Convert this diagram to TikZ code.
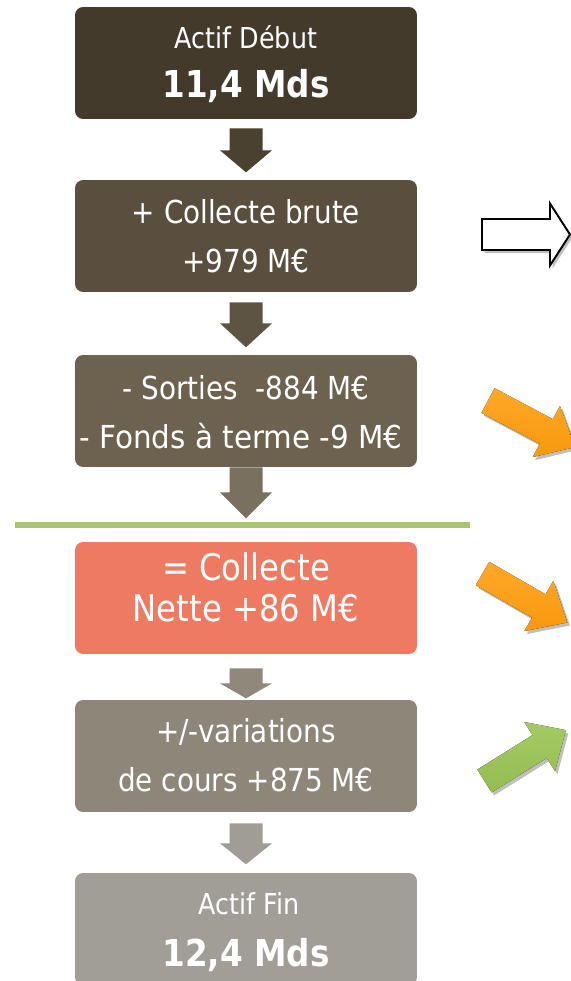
\documentclass[tikz,border=0pt]{standalone}
\usepackage{fontspec}
\setmainfont{DejaVu Sans}[FakeStretch=0.88]
\newfontfamily\widerfont{DejaVu Sans}[FakeStretch=0.93]
\usetikzlibrary{calc,shadows}
\definecolor{cA}{HTML}{433A2C}
\definecolor{cB}{HTML}{5A4F3E}
\definecolor{cC}{HTML}{6C624F}
\definecolor{cD}{HTML}{EE7A62}
\definecolor{cE}{HTML}{8E8679}
\definecolor{cF}{HTML}{A19E98}
\definecolor{aA}{HTML}{4A4131}
\definecolor{aB}{HTML}{5E5443}
\definecolor{aC}{HTML}{7A705F}
\definecolor{aD}{HTML}{8F887B}
\definecolor{aE}{HTML}{A09D97}
\definecolor{gline}{HTML}{A8C66C}
\definecolor{orL}{HTML}{FFA829}
\definecolor{orD}{HTML}{F7990C}
\definecolor{grL}{HTML}{A4CB63}
\definecolor{grD}{HTML}{93BC51}
\newcommand{\blockarrow}[5]{%
  \fill[#1] ($(#2)+(-16.5,#3)$) -- ++(33,0) -- ++(0,#4) -- ++(9.5,0)
    -- ++(-26,#5) -- ++(-26,-#5) -- ++(9.5,0) -- cycle;}
\begin{document}
\begin{tikzpicture}[x=0.02cm,y=-0.02cm,
  box/.style={rounded corners=0.16cm, minimum width=6.84cm, minimum height=2.24cm, inner sep=0pt, draw=none},
  txt/.style={text=white, anchor=base, inner sep=0pt},
  small/.style={font=\fontsize{16.4}{20}\selectfont},
  mid/.style={font=\fontsize{18}{22}\selectfont},
  midwide/.style={font=\widerfont\fontsize{18}{22}\selectfont},
  big/.style={font=\fontsize{20.9}{25}\selectfont},
  bold/.style={font=\fontsize{21.1}{25}\selectfont\bfseries},
  fatshadow/.style={drop shadow={shadow xshift=0.05cm, shadow yshift=-0.06cm, opacity=0.25, fill=black}}]
\useasboundingbox (0,0) rectangle (571,981);
\clip (0,0) rectangle (571,981);
% boxes
\node[box, fill=cA] (b1) at (246,63) {};
\node[box, fill=cB] (b2) at (246,236) {};
\node[box, fill=cC] (b3) at (246,411) {};
\node[box, fill=cD] (b4) at (246,598) {};
\node[box, fill=cE] (b5) at (246,756) {};
\node[box, fill=cF] (b6) at (246,929) {};
% texts
\node[txt, small] (t1a) at (246,48) {Actif Début};
\node[txt, bold]  (t1b) at (246,97) {11,4 Mds};
\node[txt, mid]   (t2a) at (246,223) {+ Collecte brute};
\node[txt, mid]   (t2b) at (246,272) {+979 M€};
\node[txt, mid]   (t3a) at (246,399) {- Sorties\ \ -884 M€};
\node[txt, midwide] (t3b) at (241,448) {- Fonds à terme -9 M€};
\node[txt, big]   (t4a) at (246,580) {= Collecte};
\node[txt, big]   (t4b) at (246,621) {Nette +86 M€};
\node[txt, mid]   (t5a) at (246,742) {+/-variations};
\node[txt, mid]   (t5b) at (246,791) {de cours +875 M€};
\node[txt, small] (t6a) at (249,914) {Actif Fin};
\node[txt, bold]  (t6b) at (246,966) {12,4 Mds};
% down block arrows
\blockarrow{aA}{b1.south}{9}{22}{22}
\blockarrow{aB}{b2.south}{10}{21}{24}
\blockarrow{aC}{b3.south}{0}{25}{26}
\blockarrow{aD}{b4.south}{14}{15}{15}
\blockarrow{aE}{b5.south}{11}{20}{21}
% separator
\draw[gline, line width=0.11cm] (15,525) -- (470,525);
% right-hand arrows
\begin{scope}[shift={(482,234.5)}]
  \draw[fill=white, line width=1.1pt, fatshadow]
    (0,-15.5) -- (68,-15.5) -- (68,-31) -- (88,0) -- (68,31) -- (68,15.5) -- (0,15.5) -- cycle;
\end{scope}
\begin{scope}[shift={(488,400.5)}, rotate=-28]
  \fill[top color=orL, bottom color=orD, fatshadow]
    (0,-14) -- (66,-14) -- (66,-29) -- (99,0) -- (66,29) -- (66,14) -- (0,14) -- cycle;
\end{scope}
\begin{scope}[shift={(482.5,573.5)}, rotate=-30]
  \fill[top color=orL, bottom color=orD, fatshadow]
    (0,-13.5) -- (65,-13.5) -- (65,-29) -- (98,0) -- (65,29) -- (65,13.5) -- (0,13.5) -- cycle;
\end{scope}
\begin{scope}[shift={(484.5,781)}, rotate=32]
  \fill[top color=grL, bottom color=grD, fatshadow]
    (0,-13.5) -- (65,-13.5) -- (65,-29) -- (96,0) -- (65,29) -- (65,13.5) -- (0,13.5) -- cycle;
\end{scope}
\end{tikzpicture}
\end{document}
